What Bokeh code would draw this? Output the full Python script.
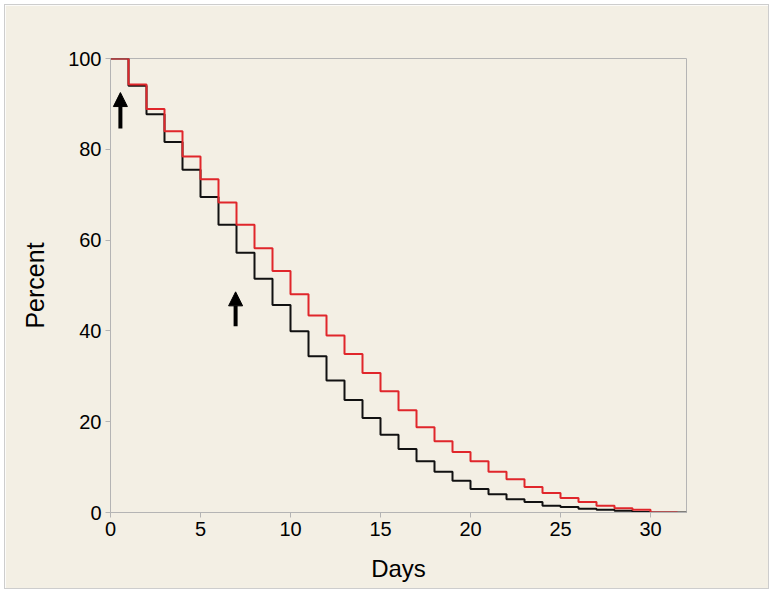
from bokeh.plotting import figure
from bokeh.models import Arrow, NormalHead, Range1d, FixedTicker
from bokeh.embed import file_html
from bokeh.resources import INLINE

# Data
black_days = list(range(0, 33))
black_pct = [100, 94.0, 87.7, 81.6, 75.5, 69.5, 63.4, 57.2, 51.5, 45.7, 39.9,
             34.4, 29.1, 24.8, 20.8, 17.1, 14.0, 11.3, 9.0, 7.0, 5.2, 4.0,
             2.9, 2.3, 1.5, 1.2, 0.8, 0.6, 0.4, 0.1, 0, 0, 0]
red_days = list(range(0, 31)) + [31.5]
red_pct = [100, 94.3, 88.9, 84.0, 78.4, 73.4, 68.3, 63.4, 58.2, 53.2, 48.1,
           43.4, 39.0, 34.9, 30.7, 26.7, 22.5, 18.8, 15.7, 13.3, 11.3, 9.0,
           7.3, 5.6, 4.3, 3.2, 2.3, 1.5, 0.95, 0.6, 0, 0]
arrow_x = [0.55, 6.95]
arrow_tail = [84.6, 41.0]
arrow_tip = [92.5, 48.6]
x_ticks = [0, 5, 10, 15, 20, 25, 30]
y_ticks = [0, 20, 40, 60, 80, 100]

BG = "#f3efe4"
GRID = "#b4b4b4"
FONT = "Liberation Sans"

p = figure(width=765, height=585, output_backend="svg", toolbar_location=None,
           x_range=Range1d(0, 32), y_range=Range1d(0, 100),
           min_border_left=105, min_border_right=84,
           min_border_top=53, min_border_bottom=78)
p.background_fill_color = BG
p.border_fill_color = BG
p.outline_line_color = GRID
p.outline_line_width = 1
p.grid.visible = False
p.styles = {"margin": "4px", "border": "1px solid #cdcdcd"}

for ax in (p.xaxis, p.yaxis):
    ax.axis_line_color = GRID
    ax.major_tick_line_color = GRID
    ax.major_tick_out = 5
    ax.major_tick_in = 0
    ax.minor_tick_line_color = None
    ax.major_label_text_font = FONT
    ax.major_label_text_font_size = "20px"
    ax.major_label_text_color = "black"
    ax.axis_label_text_font = FONT
    ax.axis_label_text_font_style = "normal"
    ax.axis_label_text_color = "black"

p.xaxis.axis_label_text_font_size = "24px"
p.yaxis.axis_label_text_font_size = "25px"
p.xaxis.ticker = FixedTicker(ticks=x_ticks)
p.yaxis.ticker = FixedTicker(ticks=y_ticks)
p.xaxis.axis_label = "Days"
p.yaxis.axis_label = "Percent"
p.xaxis.major_label_standoff = 4
p.yaxis.major_label_standoff = 4
p.xaxis.axis_label_standoff = 16
p.yaxis.axis_label_standoff = 16

p.step(black_days, black_pct, mode="after", line_color="#111111", line_width=2)
p.step(red_days, red_pct, mode="after", line_color="#e0262b", line_width=2)

for xa, yt, yh in zip(arrow_x, arrow_tail, arrow_tip):
    p.add_layout(Arrow(x_start=xa, y_start=yt, x_end=xa, y_end=yh,
                       line_width=4, line_color="black",
                       end=NormalHead(size=14, fill_color="black",
                                      line_color="black", line_width=1)))

open("out.html", "w").write(file_html(p, INLINE))
